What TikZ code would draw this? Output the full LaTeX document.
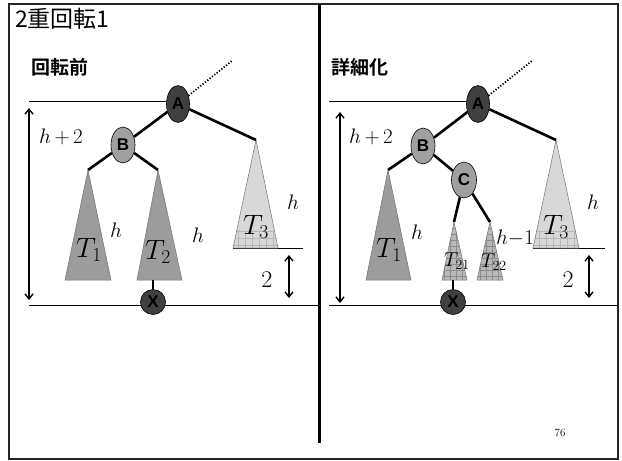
\RequirePackage{fix-cm}
\documentclass[tikz,border=0pt]{standalone}
\usepackage{fontspec}
\newfontfamily\cjk{Noto Sans CJK JP}[BoldFont={Noto Sans CJK JP Bold}]
\newfontfamily\labelsf{Liberation Sans}
\usetikzlibrary{shapes.geometric,arrows.meta}

\begin{document}
\begin{tikzpicture}[x=1pt,y=-1pt,
  every node/.style={inner sep=0pt},
  knot/.style={ellipse,draw=black,line width=0.6pt,minimum width=23pt,minimum height=37pt,
    font=\labelsf\bfseries\fontsize{17}{17}\selectfont},
  darkknot/.style={knot,fill=nodedark},
  lightknot/.style={knot,fill=nodelight,minimum width=24pt,minimum height=36pt},
  leafknot/.style={knot,fill=nodedark,minimum width=25pt,minimum height=25pt},
  link/.style={line width=2.6pt},
  parent/.style={line width=1.8pt,dash pattern=on 1.2pt off 1.8pt},
  subtree/.style={draw=black!55,line width=0.5pt},
  gridline/.style={black!28,line width=0.4pt},
  rule/.style={line width=1pt},
  meas/.style={line width=1.4pt,{Straight Barb[length=5pt,width=8pt]}-{Straight Barb[length=5pt,width=8pt]}},
  mlbl/.style={font=\fontsize{21}{24}\selectfont},
  dlbl/.style={font=\fontsize{24}{26}\selectfont},
  tlbl/.style={font=\fontsize{28}{30}\selectfont},
  slbl/.style={font=\fontsize{20}{22}\selectfont},
  heading/.style={anchor=west,font=\cjk\bfseries\fontsize{19}{21}\selectfont}]
\definecolor{nodedark}{HTML}{404040}
\definecolor{nodelight}{HTML}{A0A0A0}
\definecolor{treedark}{HTML}{9C9C9C}
\definecolor{treemid}{HTML}{B8B8B8}
\definecolor{treelight}{HTML}{D8D8D8}
\useasboundingbox (0,0) rectangle (622,461);
% frame
\draw[black!85,line width=2pt] (9,4) rectangle (618,459);
\draw[line width=3pt] (319,4) -- (319,443);
\node[anchor=west,font=\cjk\fontsize{23}{25}\selectfont] (title) at (15,19) {2重回転1};
\node[font=\fontsize{11}{11}\selectfont] (page) at (560,433) {76};

% ---- left: before rotation
\node[heading] (head1) at (31,67) {回転前};
\coordinate (top1) at (233,60);
\coordinate (lineA1) at (29,101);
\coordinate (bot1) at (29,305);
\coordinate (bot1e) at (319,305);
\coordinate (t1a) at (88,170);
\coordinate (t2a) at (158,170);
\coordinate (t2b) at (153,280);
\coordinate (t3a) at (256,140);
\coordinate (base1) at (233,248);
\coordinate (base1e) at (303,248);
\draw[rule] (bot1) -- (bot1e);
\draw[rule] (base1) -- (base1e);
\filldraw[subtree,fill=treedark] (t1a) -- (65,280) -- (111,280) -- cycle;
\filldraw[subtree,fill=treedark] (t2a) -- (137,280) -- (182,280) -- cycle;
\begin{scope}
\clip (t3a) -- (233,248) -- (278,248) -- cycle;
\fill[treelight] (225,135) rectangle (285,250);
\draw[gridline] (225,230) grid[step=7pt] (285,250);
\end{scope}
\draw[subtree] (t3a) -- (233,248) -- (278,248) -- cycle;
\node[darkknot] (A1) at (178,104) {A};
\node[lightknot] (B1) at (123,145) {B};
\node[leafknot] (X1) at (153,302) {X};
\draw[rule] (lineA1) -- (lineA1 -| A1.west);
\draw[parent] (A1) -- (top1);
\draw[link] (A1) -- (B1);
\draw[link] (A1) -- (t3a);
\draw[link] (B1) -- (t1a);
\draw[link] (B1) -- (t2a);
\draw[link] (t2b) -- (X1);
\coordinate (m1t) at (29,108);
\coordinate (m1b) at (29,300);
\draw[meas] (m1t) -- (m1b);
\coordinate (m2t) at (289,255);
\coordinate (m2b) at (289,298);
\draw[meas] (m2t) -- (m2b);
\node[mlbl] (hh1) at (61,137) {$h\,{+}\,2$};
\node[tlbl] (T11) at (89,250) {$T_1$};
\node[mlbl] (h11) at (116,230) {$h$};
\node[tlbl] (T21) at (158,252) {$T_2$};
\node[mlbl] (h21) at (198,235) {$h$};
\node[tlbl] (T31) at (256,227) {$T_3$};
\node[mlbl] (h31) at (293,202) {$h$};
\node[dlbl] (two1) at (267,280) {$2$};

% ---- right: refined
\node[heading] (head2) at (331,67) {詳細化};
\coordinate (top2) at (533,60);
\coordinate (lineA2) at (329,101);
\coordinate (bot2) at (329,305);
\coordinate (bot2e) at (618,305);
\coordinate (t1c) at (388,170);
\coordinate (t21a) at (454,222);
\coordinate (t21b) at (453,280);
\coordinate (t22a) at (490,222);
\coordinate (t3c) at (556,140);
\coordinate (base2) at (533,248);
\coordinate (base2e) at (605,248);
\draw[rule] (bot2) -- (bot2e);
\draw[rule] (base2) -- (base2e);
\filldraw[subtree,fill=treedark] (t1c) -- (366,280) -- (411,280) -- cycle;
\begin{scope}
\clip (t21a) -- (442,280) -- (467,280) -- cycle;
\fill[treemid] (435,215) rectangle (475,285);
\draw[gridline,black!45] (435,215) grid[step=6pt] (475,285);
\end{scope}
\draw[subtree] (t21a) -- (442,280) -- (467,280) -- cycle;
\begin{scope}
\clip (t22a) -- (477,280) -- (503,280) -- cycle;
\fill[treemid] (470,215) rectangle (510,285);
\draw[gridline,black!45] (470,215) grid[step=6pt] (510,285);
\end{scope}
\draw[subtree] (t22a) -- (477,280) -- (503,280) -- cycle;
\begin{scope}
\clip (t3c) -- (533,248) -- (579,248) -- cycle;
\fill[treelight] (525,135) rectangle (585,250);
\draw[gridline] (525,230) grid[step=7pt] (585,250);
\end{scope}
\draw[subtree] (t3c) -- (533,248) -- (579,248) -- cycle;
\node[darkknot] (A2) at (478,104) {A};
\node[lightknot] (B2) at (423,146) {B};
\node[lightknot,minimum width=25pt] (C2) at (464,180) {C};
\node[leafknot] (X2) at (453,302) {X};
\draw[rule] (lineA2) -- (lineA2 -| A2.west);
\draw[parent] (A2) -- (top2);
\draw[link] (A2) -- (B2);
\draw[link] (A2) -- (t3c);
\draw[link] (B2) -- (t1c);
\draw[link] (B2) -- (C2);
\draw[link] (C2) -- (t21a);
\draw[link] (C2) -- (t22a);
\draw[link] (t21b) -- (X2);
\coordinate (m3t) at (340,112);
\coordinate (m3b) at (340,303);
\draw[meas] (m3t) -- (m3b);
\coordinate (m4t) at (589,255);
\coordinate (m4b) at (589,298);
\draw[meas] (m4t) -- (m4b);
\node[mlbl] (hh2) at (371,137) {$h\,{+}\,2$};
\node[tlbl] (T12) at (389,250) {$T_1$};
\node[mlbl] (h12) at (417,232) {$h$};
\node[slbl] (T212) at (457,261) {$T_{21}$};
\node[slbl] (T222) at (494,262) {$T_{22}$};
\node[mlbl] (hm2) at (515,238) {$h{-}1$};
\node[tlbl] (T32) at (556,227) {$T_3$};
\node[mlbl] (h32) at (593,202) {$h$};
\node[dlbl] (two2) at (568,280) {$2$};
\end{tikzpicture}
\end{document}
